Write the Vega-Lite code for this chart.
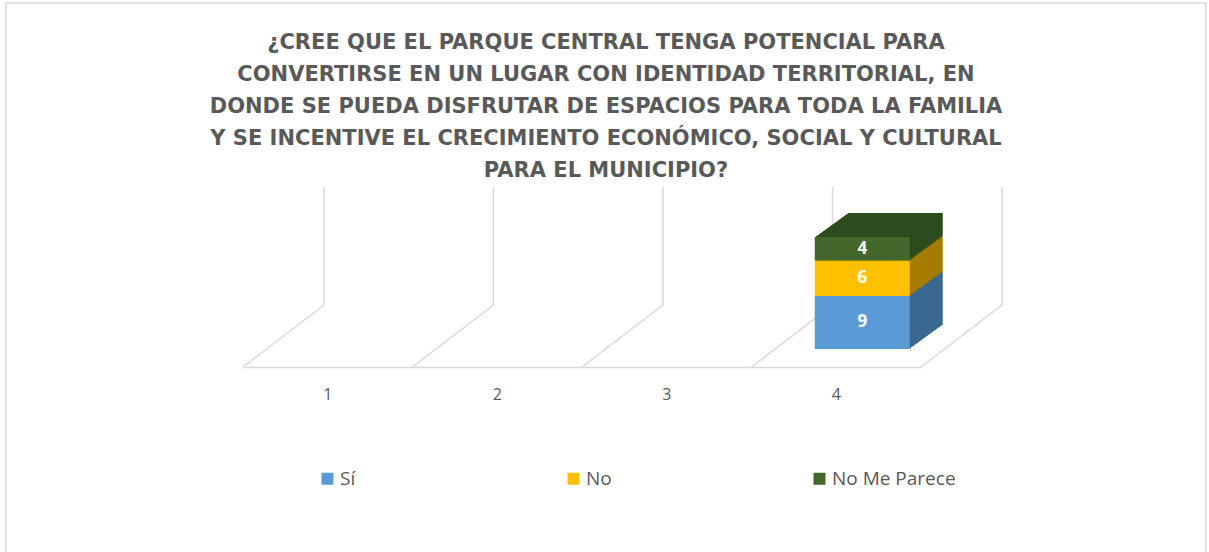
{
  "$schema": "https://vega.github.io/schema/vega-lite/v6.json",
  "width": 1200,
  "height": 560,
  "autosize": {"type": "none"},
  "padding": {"left": 6, "top": 3, "right": 3, "bottom": 0},
  "background": "white",
  "config": {"view": {"stroke": "#d9d9d9", "strokeWidth": 1.5}, "font": "Open Sans"},
  "title": {
    "text": [
      "¿CREE QUE EL PARQUE CENTRAL TENGA POTENCIAL PARA",
      "CONVERTIRSE  EN UN LUGAR CON IDENTIDAD TERRITORIAL,  EN",
      "DONDE SE PUEDA DISFRUTAR  DE ESPACIOS PARA TODA LA FAMILIA",
      "Y SE INCENTIVE  EL CRECIMIENTO  ECONÓMICO, SOCIAL Y CULTURAL",
      "PARA EL MUNICIPIO?"
    ],
    "anchor": "middle",
    "frame": "group",
    "orient": "top",
    "offset": -178,
    "font": "DejaVu Sans",
    "fontSize": 21,
    "fontWeight": "bold",
    "color": "#595959",
    "lineHeight": 32
  },
  "datasets": {
    "bars": [
      {"cat": "4", "series": "Sí", "value": 9, "ord": 1},
      {"cat": "4", "series": "No", "value": 6, "ord": 2},
      {"cat": "4", "series": "No Me Parece", "value": 4, "ord": 3}
    ],
    "bounds": [{"b": 0}, {"b": 1}, {"b": 2}, {"b": 3}, {"b": 4}]
  },
  "layer": [
    {
      "data": {"name": "bounds"},
      "encoding": {
        "x": {"field": "b", "type": "quantitative", "scale": {"domain": [0, 4], "range": [237, 915], "nice": false, "zero": false}, "axis": null}
      },
      "layer": [
        {
          "mark": {"type": "rule", "color": "#d9d9d9", "strokeWidth": 1.5, "x2Offset": 81, "y2Offset": -62},
          "encoding": {
            "x2": {"field": "b"},
            "y": {"datum": 0, "type": "quantitative", "scale": {"domain": [0, 30], "range": [364, 187], "nice": false, "zero": false}, "axis": null},
            "y2": {"datum": 0}
          }
        },
        {
          "mark": {"type": "rule", "color": "#d9d9d9", "strokeWidth": 1.5, "xOffset": 81, "yOffset": -62},
          "encoding": {
            "y": {"datum": 0, "type": "quantitative"},
            "y2": {"datum": 30.5}
          }
        }
      ]
    },
    {
      "data": {"name": "bars"},
      "transform": [
        {"stack": "value", "groupby": ["cat"], "sort": [{"field": "ord", "order": "ascending"}], "as": ["v0", "v1"]},
        {"calculate": "(datum.v0 + datum.v1) / 2", "as": "mid"}
      ],
      "encoding": {
        "x": {
          "field": "cat",
          "type": "nominal",
          "scale": {"type": "band", "domain": ["1", "2", "3", "4"], "range": [237, 915], "paddingInner": 0, "paddingOuter": 0},
          "axis": {
            "title": null,
            "orient": "bottom",
            "offset": -196,
            "labelAngle": 0,
            "domainColor": "#d9d9d9",
            "domainWidth": 1.5,
            "ticks": false,
            "grid": false,
            "labelPadding": 19,
            "labelFontSize": 16,
            "labelColor": "#595959",
            "labelFont": "Open Sans"
          }
        }
      },
      "layer": [
        {
          "encoding": {
            "y": {"field": "v0", "type": "quantitative"},
            "y2": {"field": "v1"},
            "fill": {
              "field": "ord",
              "type": "nominal",
              "scale": {"domain": [1, 2, 3], "range": ["#3A6890", "#A57C00", "#2C4C1D"]},
              "legend": null
            }
          },
          "layer": [
            {"mark": {"type": "bar", "width": 95, "xOffset": 59, "yOffset": -42, "y2Offset": -42}},
            {"mark": {"type": "bar", "width": 95, "xOffset": 57.625, "yOffset": -41, "y2Offset": -41}},
            {"mark": {"type": "bar", "width": 95, "xOffset": 56.25, "yOffset": -40, "y2Offset": -40}},
            {"mark": {"type": "bar", "width": 95, "xOffset": 54.875, "yOffset": -39, "y2Offset": -39}},
            {"mark": {"type": "bar", "width": 95, "xOffset": 53.5, "yOffset": -38, "y2Offset": -38}},
            {"mark": {"type": "bar", "width": 95, "xOffset": 52.125, "yOffset": -37, "y2Offset": -37}},
            {"mark": {"type": "bar", "width": 95, "xOffset": 50.75, "yOffset": -36, "y2Offset": -36}},
            {"mark": {"type": "bar", "width": 95, "xOffset": 49.375, "yOffset": -35, "y2Offset": -35}},
            {"mark": {"type": "bar", "width": 95, "xOffset": 48, "yOffset": -34, "y2Offset": -34}},
            {"mark": {"type": "bar", "width": 95, "xOffset": 46.625, "yOffset": -33, "y2Offset": -33}},
            {"mark": {"type": "bar", "width": 95, "xOffset": 45.25, "yOffset": -32, "y2Offset": -32}},
            {"mark": {"type": "bar", "width": 95, "xOffset": 43.875, "yOffset": -31, "y2Offset": -31}},
            {"mark": {"type": "bar", "width": 95, "xOffset": 42.5, "yOffset": -30, "y2Offset": -30}},
            {"mark": {"type": "bar", "width": 95, "xOffset": 41.125, "yOffset": -29, "y2Offset": -29}},
            {"mark": {"type": "bar", "width": 95, "xOffset": 39.75, "yOffset": -28, "y2Offset": -28}},
            {"mark": {"type": "bar", "width": 95, "xOffset": 38.375, "yOffset": -27, "y2Offset": -27}},
            {"mark": {"type": "bar", "width": 95, "xOffset": 37, "yOffset": -26, "y2Offset": -26}},
            {"mark": {"type": "bar", "width": 95, "xOffset": 35.625, "yOffset": -25, "y2Offset": -25}},
            {"mark": {"type": "bar", "width": 95, "xOffset": 34.25, "yOffset": -24, "y2Offset": -24}},
            {"mark": {"type": "bar", "width": 95, "xOffset": 32.875, "yOffset": -23, "y2Offset": -23}},
            {"mark": {"type": "bar", "width": 95, "xOffset": 31.5, "yOffset": -22, "y2Offset": -22}},
            {"mark": {"type": "bar", "width": 95, "xOffset": 30.125, "yOffset": -21, "y2Offset": -21}},
            {"mark": {"type": "bar", "width": 95, "xOffset": 28.75, "yOffset": -20, "y2Offset": -20}},
            {"mark": {"type": "bar", "width": 95, "xOffset": 27.375, "yOffset": -19, "y2Offset": -19}}
          ]
        },
        {
          "mark": {"type": "bar", "width": 95, "xOffset": 26, "yOffset": -18, "y2Offset": -18},
          "encoding": {
            "y": {"field": "v0", "type": "quantitative"},
            "y2": {"field": "v1"},
            "color": {
              "field": "series",
              "type": "nominal",
              "scale": {"domain": ["Sí", "No", "No Me Parece"], "range": ["#5B9BD5", "#FFC000", "#43682B"]},
              "legend": {
                "title": null,
                "orient": "none",
                "legendX": 312,
                "legendY": 466,
                "direction": "horizontal",
                "symbolType": "square",
                "symbolSize": 144,
                "symbolStrokeWidth": 0,
                "symbolOffset": 0,
                "labelOffset": 3,
                "labelFontSize": 19,
                "labelColor": "#595959",
                "labelFont": "Open Sans",
                "gridAlign": "all",
                "columnPadding": 100
              }
            }
          }
        },
        {
          "mark": {"type": "text", "xOffset": 26, "yOffset": -18, "color": "white", "fontWeight": "bold", "fontSize": 17, "font": "Open Sans"},
          "encoding": {
            "y": {"field": "mid", "type": "quantitative"},
            "text": {"field": "value", "type": "quantitative"}
          }
        }
      ]
    }
  ],
  "resolve": {"scale": {"x": "independent"}}
}
